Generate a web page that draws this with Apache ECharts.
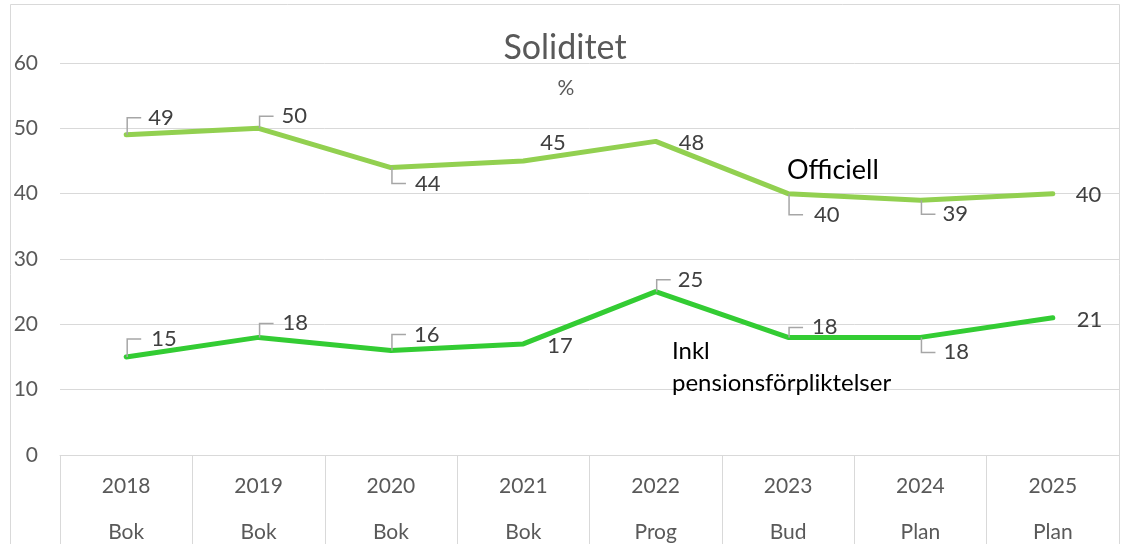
<!DOCTYPE html>
<html><head><meta charset="utf-8">
<script src="https://cdn.jsdelivr.net/npm/echarts@6/dist/echarts.min.js"></script>
<style>html,body{margin:0;padding:0;background:#fff}#c{width:1123px;height:544px}</style>
</head><body><div id="c"></div>
<script>
// ---- data ----
const years = ['2018','2019','2020','2021','2022','2023','2024','2025'];
const phases = ['Bok','Bok','Bok','Bok','Prog','Bud','Plan','Plan'];
const yMin = 0, yMax = 60, yStep = 10;
const officiell = [49, 50, 44, 45, 48, 40, 39, 40];
const inklPension = [15, 18, 16, 17, 25, 18, 18, 21];
const nameOfficiell = 'Officiell';
const nameInkl = 'Inkl\npensionsförpliktelser';
const titleText = 'Soliditet';
const subText = '%';

// ---- label layout (pixel offsets of data labels from their point) ----
const offDx = [22, 23, 24, 17, 23, 26, 22, 23];
const offDy = [-17, -12, 16, -18, 2, 21, 14, 1];
const offBr = [1, 1, 1, 0, 0, 1, 1, 0];
const inkDx = [25, 24, 23, 24, 22, 24, 23, 24];
const inkDy = [-18, -14, -16, 2, -12, -10, 15, 2];
const inkBr = [1, 1, 1, 0, 1, 1, 1, 0];

const FONT = 'Lato';

function labelSeries(vals, dxs, dys, br) {
  return {
    type: 'custom', z: 10, silent: true,
    data: vals.map((v, i) => [i, v]),
    renderItem(params, api) {
      const i = params.dataIndex;
      const p = api.coord([api.value(0), api.value(1)]);
      const children = [];
      if (br[i]) {
        children.push({
          type: 'polyline',
          shape: { points: [[p[0] + 1, p[1]], [p[0] + 1, p[1] + dys[i]], [p[0] + 15, p[1] + dys[i]]] },
          style: { stroke: '#a6a6a6', lineWidth: 1.5, fill: null }
        });
      }
      children.push({
        type: 'text', x: p[0] + dxs[i], y: p[1] + dys[i],
        style: { text: String(api.value(1)), fill: '#404040', fontSize: 22, fontFamily: FONT, align: 'left', verticalAlign: 'middle' }
      });
      return { type: 'group', children };
    }
  };
}

const chart = echarts.init(document.getElementById('c'), null, { renderer: 'canvas' });
chart.setOption({
  animation: false,
  backgroundColor: '#fff',
  grid: { left: 60, right: 4, top: 63, bottom: 89, containLabel: false, outerBoundsMode: 'none' },
  xAxis: {
    type: 'category', data: years, boundaryGap: true,
    axisLine: { lineStyle: { color: '#d9d9d9', width: 1 } },
    axisTick: { show: true, interval: 0, length: 100, lineStyle: { color: '#d9d9d9' } },
    axisLabel: {
      interval: 0, margin: 8, color: '#595959', fontSize: 21, fontFamily: FONT, lineHeight: 46,
      formatter: (v, i) => v + '\n' + phases[i]
    }
  },
  yAxis: {
    type: 'value', min: yMin, max: yMax, interval: yStep,
    axisLine: { show: false }, axisTick: { show: false },
    splitLine: { lineStyle: { color: '#d9d9d9', width: 1 } },
    axisLabel: { color: '#595959', fontSize: 21, fontFamily: FONT, margin: 22 }
  },
  graphic: [
    { type: 'rect', silent: true, z: -100, shape: { x: 10.5, y: 4.5, width: 1109, height: 600 }, style: { fill: null, stroke: '#d9d9d9', lineWidth: 1 } },
    { type: 'text', silent: true, z: 100, x: 565, y: 48, style: { text: titleText, fill: '#595959', fontSize: 34, fontFamily: FONT, align: 'center', verticalAlign: 'middle' } },
    { type: 'text', silent: true, z: 100, x: 566, y: 88, style: { text: subText, fill: '#595959', fontSize: 21, fontFamily: FONT, align: 'center', verticalAlign: 'middle' } },
    { type: 'text', silent: true, z: 100, x: 787, y: 170, style: { text: nameOfficiell, fill: '#000', fontSize: 27, fontFamily: FONT, align: 'left', verticalAlign: 'middle' } },
    { type: 'text', silent: true, z: 100, x: 672, y: 367, style: { text: nameInkl, fill: '#000', fontSize: 24, fontFamily: FONT, align: 'left', verticalAlign: 'middle', lineHeight: 32 } }
  ],
  series: [
    { type: 'line', name: nameOfficiell, data: officiell, symbol: 'none', z: 3,
      lineStyle: { color: '#92D050', width: 5, cap: 'round', join: 'round' } },
    { type: 'line', name: nameInkl, data: inklPension, symbol: 'none', z: 3,
      lineStyle: { color: '#33CC33', width: 5, cap: 'round', join: 'round' } },
    labelSeries(officiell, offDx, offDy, offBr),
    labelSeries(inklPension, inkDx, inkDy, inkBr)
  ]
});
</script></body></html>
